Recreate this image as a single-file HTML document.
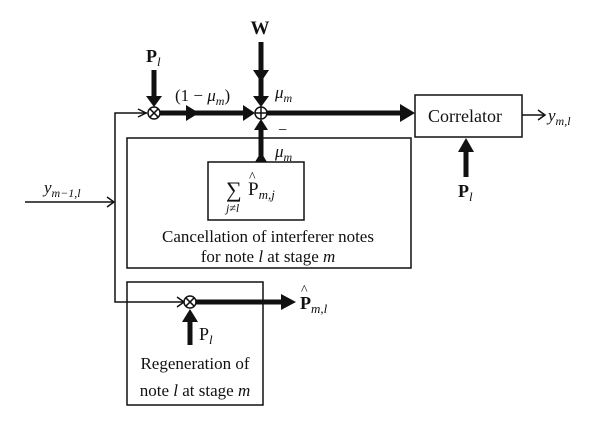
<!DOCTYPE html>
<html><head><meta charset="utf-8"><style>
html,body{margin:0;padding:0;background:#fff;}
svg{display:block;}
text{font-family:"Liberation Serif",serif;fill:#111;}
.i{font-style:italic;}
.b{font-weight:bold;}
</style></head><body>
<svg width="600" height="430" viewBox="0 0 600 430" xmlns="http://www.w3.org/2000/svg">
<g stroke="#111" fill="none" stroke-width="1.5">
<rect x="415" y="95" width="107" height="42"/>
<rect x="127" y="138" width="284" height="130"/>
<rect x="208" y="162" width="96" height="58"/>
<rect x="127" y="282" width="136" height="123"/>
<!-- thin lines -->
<polyline points="147,113 115,113 115,302 184,302"/>
<line x1="25" y1="202" x2="113" y2="202"/>
<line x1="522" y1="115" x2="544" y2="115"/>
<polyline points="138,109 146,113 138,117"/>
<polyline points="107,197 114,202 107,207"/>
<polyline points="538,110 545,115 538,120"/>
<polyline points="177,297 184,302 177,307"/>
<circle cx="154" cy="113" r="6" fill="#fff"/>
<line x1="149.8" y1="108.8" x2="158.2" y2="117.2"/><line x1="158.2" y1="108.8" x2="149.8" y2="117.2"/>
<circle cx="261" cy="113" r="6" fill="#fff"/>
<line x1="255" y1="113" x2="267" y2="113"/><line x1="261" y1="107" x2="261" y2="119"/>
<circle cx="190" cy="302" r="6" fill="#fff"/>
<line x1="185.8" y1="297.8" x2="194.2" y2="306.2"/><line x1="194.2" y1="297.8" x2="185.8" y2="306.2"/>
</g>
<g stroke="#111" stroke-width="5" fill="none">
<line x1="154" y1="70" x2="154" y2="96"/>
<line x1="261" y1="42" x2="261" y2="96"/>
<line x1="160" y1="113" x2="244" y2="113"/>
<line x1="267" y1="113" x2="400" y2="113"/>
<line x1="261" y1="162" x2="261" y2="130"/>
<line x1="466" y1="177" x2="466" y2="152"/>
<line x1="196" y1="302" x2="282" y2="302"/>
<line x1="190" y1="345" x2="190" y2="322"/>
</g>
<g fill="#111">
<polygon points="146,96 162,96 154,107"/>
<polygon points="253,70 269,70 261,82"/>
<polygon points="253,96 269,96 261,107"/>
<polygon points="186,105 186,121 199,113"/>
<polygon points="243,105 243,121 255,113"/>
<polygon points="400,104 400,122 415,113"/>
<polygon points="254,130 268,130 261,119"/>
<polygon points="255,162 267,162 261,152"/>
<polygon points="458,152 474,152 466,138"/>
<polygon points="281,294 281,310 296,302"/>
<polygon points="182,322 198,322 190,309"/>
</g>
<text x="260" y="34" font-size="19" class="b" text-anchor="middle">W</text>
<text x="146" y="62" font-size="18" class="b">P<tspan class="i" font-weight="normal" font-size="13" dy="4">l</tspan></text>
<text x="175" y="101" font-size="17">(1 − <tspan class="i">μ</tspan><tspan class="i" font-size="12" dy="4">m</tspan><tspan dy="-4">)</tspan></text>
<text x="275" y="98" font-size="17" class="i">μ<tspan font-size="12" dy="4">m</tspan></text>
<text x="278" y="135" font-size="16">−</text>
<text x="275" y="157" font-size="17" class="i">μ<tspan font-size="12" dy="4">m</tspan></text>
<text x="428" y="122" font-size="18">Correlator</text>
<text x="548" y="121" font-size="17" class="i">y<tspan font-size="12" dy="4">m,l</tspan></text>
<text x="458" y="197" font-size="18" class="b">P<tspan class="i" font-weight="normal" font-size="13" dy="4">l</tspan></text>
<text x="44" y="193" font-size="17" class="i">y<tspan font-size="12" dy="4">m−1,l</tspan></text>
<text x="226" y="197" font-size="22">∑</text>
<text x="248" y="195" font-size="19">P<tspan class="i" font-size="13" dy="4">m,j</tspan></text>
<text x="249" y="181" font-size="14">^</text>
<text x="226" y="212" font-size="12" class="i">j≠l</text>
<text x="268" y="242" font-size="17" text-anchor="middle">Cancellation of interferer notes</text>
<text x="268" y="262" font-size="17" text-anchor="middle">for note <tspan class="i">l</tspan> at stage <tspan class="i">m</tspan></text>
<text x="300" y="309" font-size="18" class="b">P<tspan class="i" font-weight="normal" font-size="13" dy="4">m,l</tspan></text>
<text x="301" y="294" font-size="14">^</text>
<text x="199" y="340" font-size="18">P<tspan class="i" font-size="13" dy="4">l</tspan></text>
<text x="195" y="369" font-size="17" text-anchor="middle">Regeneration of</text>
<text x="195" y="396" font-size="17" text-anchor="middle">note <tspan class="i">l</tspan> at stage <tspan class="i">m</tspan></text>
</svg>
</body></html>
